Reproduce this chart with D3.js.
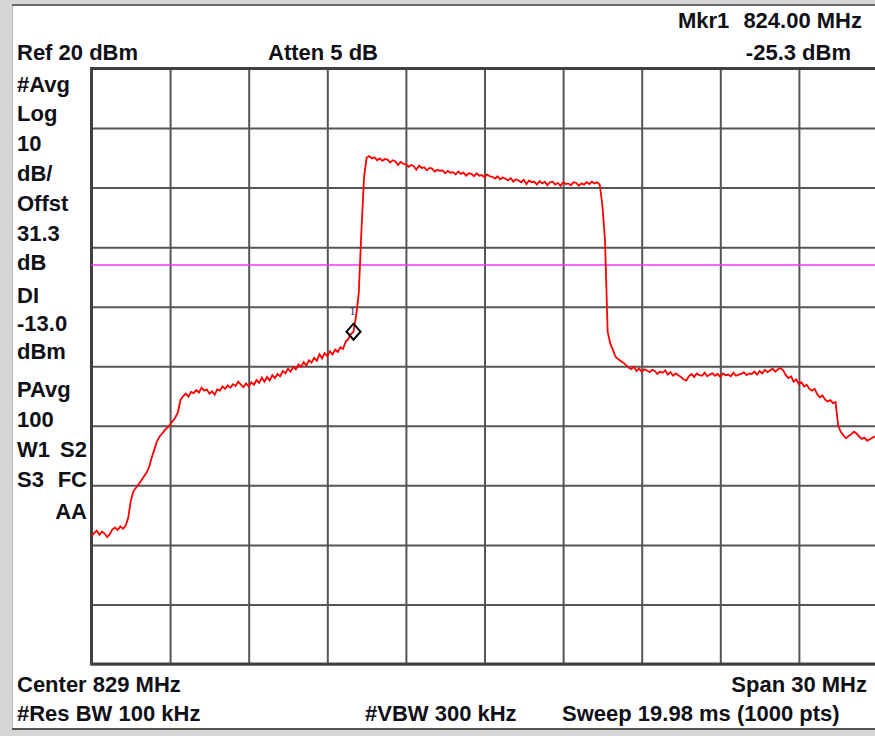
<!DOCTYPE html>
<html>
<head>
<meta charset="utf-8">
<script src="https://cdn.jsdelivr.net/npm/d3@7"></script>
<style>
  html, body { margin: 0; padding: 0; background: #fff; overflow: hidden; }
  svg { display: block; }
  text { font-family: "Liberation Sans", Arial, sans-serif; font-weight: bold; font-size: 22px; fill: #101018; }
</style>
</head>
<body>
<svg id="chart" width="875" height="736"></svg>
<script>
// ---------------- DATA ----------------
const startFreqMHz = 814.0;
const stepMHz = 0.1;
const centerMHz = 829;
const spanMHz = 30;
const refLevel = 20;      // dBm
const dbPerDiv = 10;
const displayLine = -13.0;
const markerFreq = 824.00;
const markerLabel = "1";

const xGridTicks = [814, 817, 820, 823, 826, 829, 832, 835, 838, 841, 844];
const yGridTicks = [20, 10, 0, -10, -20, -30, -40, -50, -60, -70, -80];

// trace values (dBm), one every 0.1 MHz from 814.0 to 844.0 MHz
const traceDbm = [
  -58.6,-58.0,-57.6,-58.3,-57.8,-58.1,-58.7,-58.2,-57.4,-57.1,
  -57.5,-56.9,-57.3,-56.8,-55.5,-52.6,-51.0,-50.4,-49.8,-49.2,
  -48.5,-47.9,-46.9,-45.3,-44.0,-42.6,-41.8,-41.3,-40.7,-40.3,
  -39.8,-39.2,-38.6,-37.7,-35.6,-35.0,-34.6,-35.1,-34.3,-34.5,
  -34.0,-34.4,-33.6,-34.1,-33.9,-34.6,-34.2,-34.8,-33.9,-34.1,
  -33.4,-33.8,-33.2,-33.6,-33.0,-33.3,-32.6,-33.1,-33.5,-32.9,
  -33.4,-32.7,-33.1,-32.3,-32.8,-31.9,-32.6,-31.8,-32.4,-31.5,
  -32.0,-31.3,-31.7,-30.8,-31.2,-30.4,-30.9,-30.1,-30.5,-29.7,
  -30.1,-29.3,-29.9,-29.0,-29.4,-28.6,-29.1,-28.0,-28.7,-27.8,
  -28.3,-27.5,-28.0,-27.2,-27.6,-26.8,-27.1,-25.9,-25.4,-24.6,
  -24.2,-21.5,-17.8,-7.5,1.6,5.0,5.3,4.9,5.1,4.6,
  4.9,4.5,4.8,4.7,4.2,4.6,4.4,3.8,4.3,4.0,
  3.9,3.5,3.8,3.6,3.0,3.7,3.3,3.4,2.9,3.3,
  3.2,2.7,3.0,2.8,2.9,2.4,2.8,2.5,2.6,2.2,
  2.7,2.3,2.5,2.0,2.4,2.3,1.9,2.4,2.0,2.1,
  1.7,2.2,1.9,1.8,1.5,1.9,1.4,1.7,1.5,1.2,
  1.6,1.0,1.4,1.2,0.9,1.3,0.6,1.2,0.9,1.0,
  0.5,1.1,0.7,1.0,0.4,0.9,1.0,0.5,0.8,0.3,
  0.9,0.6,0.7,0.4,0.9,0.8,0.3,0.7,0.5,0.9,
  0.6,1.0,0.7,0.9,0.5,-3.0,-8.8,-24.2,-26.2,-27.2,
  -28.4,-28.8,-29.1,-29.4,-29.8,-30.2,-30.5,-30.1,-30.8,-30.4,
  -30.9,-30.5,-30.7,-31.0,-30.6,-30.8,-31.3,-30.9,-31.1,-30.7,
  -31.4,-31.0,-31.6,-31.2,-31.5,-31.8,-32.2,-32.4,-31.7,-31.3,
  -31.8,-31.2,-31.5,-31.6,-31.1,-31.7,-31.4,-31.2,-31.6,-31.3,
  -31.8,-31.2,-31.5,-31.4,-31.7,-31.1,-31.6,-31.4,-31.3,-31.0,
  -31.5,-31.2,-31.3,-30.9,-31.4,-30.8,-31.2,-30.6,-31.0,-30.7,
  -30.4,-30.9,-30.5,-30.3,-30.7,-31.5,-32.0,-31.7,-32.6,-32.2,
  -33.0,-32.7,-33.4,-33.1,-33.8,-34.1,-33.8,-34.7,-35.2,-34.9,
  -35.6,-35.9,-35.7,-36.2,-36.0,-40.0,-41.0,-41.6,-42.1,-41.7,
  -41.4,-41.0,-41.3,-41.8,-42.2,-42.0,-42.5,-42.3,-42.0,-41.8,
  -42.1
];

// annotation texts
const topLeftTexts = ["Ref 20 dBm", "Atten 5 dB"];
const markerTexts = ["Mkr1", "824.00 MHz", "-25.3 dBm"];
const sideLabels = ["#Avg", "Log", "10", "dB/", "Offst", "31.3", "dB", "DI", "-13.0", "dBm", "PAvg", "100"];
const sidePairs = [["W1", "S2"], ["S3", "FC"], ["", "AA"]];
const bottomTexts = ["Center 829 MHz", "Span 30 MHz", "#Res BW 100 kHz", "#VBW 300 kHz", "Sweep 19.98 ms (1000 pts)"];

// ---------------- LAYOUT ----------------
const W = 875, H = 736;
const plot = { left: 91.5, top: 68.5, width: 786, height: 595.5 };
const svg = d3.select("#chart");

// window chrome
svg.append("rect").attr("x", 0).attr("y", 0).attr("width", W).attr("height", H).attr("fill", "#ffffff");
svg.append("rect").attr("x", 0).attr("y", 0).attr("width", W).attr("height", 4).attr("fill", "#d6d6d6");
svg.append("rect").attr("x", 0).attr("y", 0).attr("width", 12).attr("height", H).attr("fill", "#d6d6d6");
svg.append("line").attr("x1", 12.5).attr("x2", 12.5).attr("y1", 4).attr("y2", 730).attr("stroke", "#bdbdbd").attr("stroke-width", 1);
svg.append("line").attr("x1", 12).attr("x2", W).attr("y1", 5).attr("y2", 5).attr("stroke", "#6a6a6a").attr("stroke-width", 2);
svg.append("rect").attr("x", 0).attr("y", 730).attr("width", W).attr("height", 6).attr("fill", "#d6d6d6");
svg.append("line").attr("x1", 12).attr("x2", W).attr("y1", 729).attr("y2", 729).attr("stroke", "#555").attr("stroke-width", 2);

// scales
const x = d3.scaleLinear().domain([centerMHz - spanMHz / 2, centerMHz + spanMHz / 2])
  .range([plot.left, plot.left + plot.width]);
const y = d3.scaleLinear().domain([refLevel - 10 * dbPerDiv, refLevel])
  .range([plot.top + plot.height, plot.top]);

// grid via axes
const gx = svg.append("g").attr("transform", `translate(0,${plot.top + plot.height})`)
  .call(d3.axisBottom(x).tickValues(xGridTicks).tickSize(-plot.height).tickFormat("").tickSizeOuter(0));
const gy = svg.append("g").attr("transform", `translate(${plot.left},0)`)
  .call(d3.axisLeft(y).tickValues(yGridTicks).tickSize(-plot.width).tickFormat("").tickSizeOuter(0));
[gx, gy].forEach(g => {
  g.select(".domain").remove();
  g.selectAll(".tick line").attr("stroke", "#555555").attr("stroke-width", 2);
});

// frame
svg.append("rect").attr("x", plot.left).attr("y", plot.top)
  .attr("width", plot.width).attr("height", plot.height)
  .attr("fill", "none").attr("stroke", "#404040").attr("stroke-width", 3);

// clip
svg.append("clipPath").attr("id", "clip").append("rect")
  .attr("x", plot.left).attr("y", plot.top).attr("width", plot.width).attr("height", plot.height);

// display line
svg.append("line")
  .attr("x1", x(814)).attr("x2", x(844))
  .attr("y1", y(displayLine)).attr("y2", y(displayLine))
  .attr("stroke", "#ff33ff").attr("stroke-width", 1.6);

// trace
const traceData = traceDbm.map((v, i) => ({ f: startFreqMHz + i * stepMHz, v }));
const line = d3.line().x(d => x(d.f)).y(d => y(d.v));
svg.append("path").datum(traceData)
  .attr("clip-path", "url(#clip)")
  .attr("d", line).attr("fill", "none")
  .attr("stroke", "#ff0000").attr("stroke-width", 1.8).attr("stroke-linejoin", "miter");

// marker
const mIdx = Math.round((markerFreq - startFreqMHz) / stepMHz);
const mx = x(markerFreq), my = y(traceDbm[mIdx]);
svg.append("path")
  .attr("d", `M${mx},${my - 8}L${mx + 7},${my}L${mx},${my + 8}L${mx - 7},${my}Z`)
  .attr("fill", "none").attr("stroke", "#000").attr("stroke-width", 2);
svg.append("text").attr("x", mx - 1).attr("y", my - 17).attr("text-anchor", "middle")
  .style("font-size", "12px").style("font-weight", "normal").style("fill", "#2a2a6a")
  .style("font-family", "'Liberation Serif', serif")
  .text(markerLabel);

// top texts
svg.append("text").attr("x", 17).attr("y", 60).text(topLeftTexts[0]);
svg.append("text").attr("x", 268).attr("y", 60).text(topLeftTexts[1]);
svg.append("text").attr("x", 678).attr("y", 28).text(markerTexts[0]);
svg.append("text").attr("x", 862).attr("y", 28).attr("text-anchor", "end").text(markerTexts[1]);
svg.append("text").attr("x", 851).attr("y", 60).attr("text-anchor", "end").text(markerTexts[2]);

// side labels
const sideBaselines = [92, 121, 151, 181, 211, 241, 270, 303, 331, 359, 397, 427];
sideLabels.forEach((t, i) => {
  svg.append("text").attr("x", 17).attr("y", sideBaselines[i]).text(t);
});
const pairBaselines = [457, 487, 519];
sidePairs.forEach((p, i) => {
  if (p[0]) svg.append("text").attr("x", 17).attr("y", pairBaselines[i]).text(p[0]);
  svg.append("text").attr("x", 87).attr("y", pairBaselines[i]).attr("text-anchor", "end").text(p[1]);
});

// bottom texts
svg.append("text").attr("x", 17).attr("y", 692).text(bottomTexts[0]);
svg.append("text").attr("x", 867).attr("y", 692).attr("text-anchor", "end").text(bottomTexts[1]);
svg.append("text").attr("x", 17).attr("y", 721).text(bottomTexts[2]);
svg.append("text").attr("x", 365).attr("y", 721).text(bottomTexts[3]);
svg.append("text").attr("x", 562).attr("y", 721).text(bottomTexts[4]);
</script>
</body>
</html>
